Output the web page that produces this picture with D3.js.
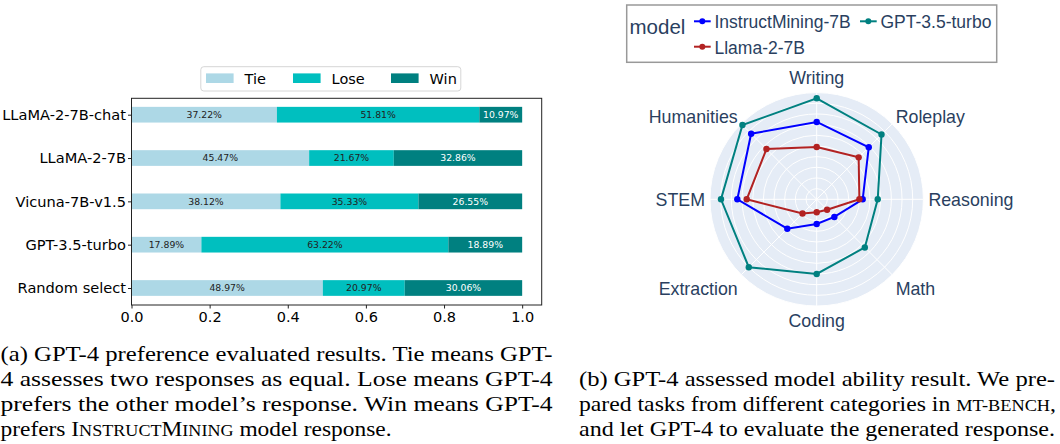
<!DOCTYPE html>
<html>
<head>
<meta charset="utf-8">
<script src="https://cdn.jsdelivr.net/npm/d3@7"></script>
<style>
  body { margin: 0; background: #fff; }
  svg { display: block; }
</style>
</head>
<body>
<script>
// ---- data: (a) preference bars ----
var models = ["LLaMA-2-7B-chat", "LLaMA-2-7B", "Vicuna-7B-v1.5", "GPT-3.5-turbo", "Random select"];
var tieVals = [37.22, 45.47, 38.12, 17.89, 48.97];
var loseVals = [51.81, 21.67, 35.33, 63.22, 20.97];
var winVals = [10.97, 32.86, 26.55, 18.89, 30.06];
var outcomes = ["Tie", "Lose", "Win"];
var xTicks = [0, 0.2, 0.4, 0.6, 0.8, 1.0];

// ---- data: (b) radar ----
var categories = ["Writing", "Roleplay", "Reasoning", "Math", "Coding", "Extraction", "STEM", "Humanities"];
var instructMining = [7.25, 6.9, 4.31, 2.34, 2.31, 3.9, 7.44, 8.69];
var gpt35 = [9.47, 8.59, 5.72, 6.38, 7.0, 9.0, 8.97, 9.84];
var llama2 = [4.9, 5.56, 4.0, 1.38, 1.22, 1.88, 6.56, 6.66];
var radarNames = ["InstructMining-7B", "GPT-3.5-turbo", "Llama-2-7B"];
var radialTicks = [1, 2, 3, 4, 5, 6, 7, 8, 9, 10];

var width = 1060, height = 444;
var svg = d3.select("body").append("svg")
  .attr("width", width)
  .attr("height", height);

// ================= (a) stacked bars =================
var barColors = d3.scaleOrdinal().domain(outcomes).range(["#add8e6", "#00bfbf", "#008080"]);
var labelColors = { Tie: "#222", Lose: "#222", Win: "#fff" };

var x = d3.scaleLinear().domain([0, 1.05]).range([131.5, 541.7]);
var y = d3.scaleLinear().domain([0, 4]).range([114.7, 288]);
var barH = 15.7;
var plotTop = 98.3, plotBottom = 305;

var rows = models.map(function(m, i) {
  return { model: m, Tie: tieVals[i] / 100, Lose: loseVals[i] / 100, Win: winVals[i] / 100 };
});
var stacked = d3.stack().keys(outcomes)(rows);

var gA = svg.append("g").attr("font-family", "DejaVu Sans, sans-serif");

var layers = gA.selectAll("g.layer")
  .data(stacked)
  .enter()
  .append("g")
  .attr("class", "layer")
  .attr("fill", function(d) { return barColors(d.key); });

layers.selectAll("rect")
  .data(function(d) { return d; })
  .enter()
  .append("rect")
  .attr("x", function(d) { return x(d[0]); })
  .attr("y", function(d, i) { return y(i) - barH / 2; })
  .attr("width", function(d) { return x(d[1]) - x(d[0]); })
  .attr("height", barH);

layers.each(function(layer) {
  d3.select(this).selectAll("text")
    .data(layer)
    .enter()
    .append("text")
    .attr("x", function(d) { return (x(d[0]) + x(d[1])) / 2; })
    .attr("y", function(d, i) { return y(i); })
    .attr("dy", "0.36em")
    .attr("text-anchor", "middle")
    .attr("font-size", 9.3)
    .attr("fill", labelColors[layer.key])
    .text(function(d) { return ((d[1] - d[0]) * 100).toFixed(2) + "%"; });
});

// frame
gA.append("rect")
  .attr("x", x(0)).attr("y", plotTop)
  .attr("width", x(1.05) - x(0)).attr("height", plotBottom - plotTop)
  .attr("fill", "none").attr("stroke", "#222").attr("stroke-width", 1);

// x axis
var xAxis = gA.append("g")
  .attr("transform", "translate(0," + plotBottom + ")")
  .call(d3.axisBottom(x).tickValues(xTicks).tickFormat(d3.format(".1f")).tickSizeOuter(0).tickSize(3.5).tickPadding(3));
xAxis.select(".domain").remove();
xAxis.selectAll("text").attr("font-size", 14.5).attr("fill", "#000").attr("font-family", "DejaVu Sans, sans-serif");
xAxis.selectAll("line").attr("stroke", "#222");

// y axis
var yAxis = gA.append("g")
  .attr("transform", "translate(" + x(0) + ",0)")
  .call(d3.axisLeft(y).tickValues([0, 1, 2, 3, 4]).tickFormat(function(d) { return models[d]; }).tickSize(3.5).tickPadding(2));
yAxis.select(".domain").remove();
yAxis.selectAll("text").attr("font-size", 14.6).attr("fill", "#000").attr("font-family", "DejaVu Sans, sans-serif");
yAxis.selectAll("line").attr("stroke", "#222");

// legend
var legA = gA.append("g");
legA.append("rect")
  .attr("x", 200.8).attr("y", 66.7).attr("width", 260).attr("height", 24.3)
  .attr("rx", 3).attr("fill", "#fff").attr("stroke", "#d6d6d6");
var legX = [206, 293, 391];
outcomes.forEach(function(k, i) {
  legA.append("rect")
    .attr("x", legX[i]).attr("y", 73.4).attr("width", 27.6).attr("height", 9.6)
    .attr("fill", barColors(k));
  legA.append("text")
    .attr("x", legX[i] + 38.6).attr("y", 78.8).attr("dy", "0.36em")
    .attr("font-size", 14.5).attr("fill", "#000")
    .text(k);
});

// ================= (b) radar =================
var cx = 816.7, cy = 199.3, R = 106.7;
var r = d3.scaleLinear().domain([0, 10]).range([0, R]);
var angle = d3.scaleLinear().domain([0, categories.length]).range([0, 2 * Math.PI]);
var sansFont = "'Liberation Sans', Arial, sans-serif";

var gB = svg.append("g")
  .attr("transform", "translate(" + cx + "," + cy + ")")
  .attr("font-family", sansFont);

gB.append("circle").attr("r", R).attr("fill", "#e5ecf6");

gB.selectAll("circle.grid")
  .data(radialTicks)
  .enter()
  .append("circle")
  .attr("class", "grid")
  .attr("r", function(d) { return r(d); })
  .attr("fill", "none")
  .attr("stroke", "#fff")
  .attr("stroke-width", 1);

gB.selectAll("line.spoke")
  .data(categories)
  .enter()
  .append("line")
  .attr("class", "spoke")
  .attr("x1", 0).attr("y1", 0)
  .attr("x2", function(d, i) { return R * Math.sin(angle(i)); })
  .attr("y2", function(d, i) { return -R * Math.cos(angle(i)); })
  .attr("stroke", "#fff")
  .attr("stroke-width", 1);

// category labels
gB.selectAll("text.cat")
  .data(categories)
  .enter()
  .append("text")
  .attr("class", "cat")
  .attr("x", function(d, i) { return (R + 5) * Math.sin(angle(i)); })
  .attr("y", function(d, i) {
    var c = Math.cos(angle(i));
    var diag = Math.abs(c) > 0.1 && Math.abs(c) < 0.9;
    return -(R + 15) * c + (diag ? 3.5 : 0);
  })
  .attr("dy", "0.36em")
  .attr("text-anchor", function(d, i) {
    var s = Math.sin(angle(i));
    return Math.abs(s) < 0.1 ? "middle" : (s > 0 ? "start" : "end");
  })
  .attr("font-size", 17.8)
  .attr("fill", "#2a3f5f")
  .text(function(d) { return d; });

var radarSeries = [
  { name: radarNames[0], values: instructMining, color: "#0000ff" },
  { name: radarNames[1], values: gpt35, color: "#008080" },
  { name: radarNames[2], values: llama2, color: "#b22222" }
];

var radarLine = d3.lineRadial()
  .angle(function(d, i) { return angle(i); })
  .radius(function(d) { return r(d); })
  .curve(d3.curveLinearClosed);

var seriesG = gB.selectAll("g.series")
  .data(radarSeries)
  .enter()
  .append("g")
  .attr("class", "series");

seriesG.append("path")
  .attr("d", function(d) { return radarLine(d.values); })
  .attr("fill", "none")
  .attr("stroke", function(d) { return d.color; })
  .attr("stroke-width", 2);

seriesG.each(function(s) {
  d3.select(this).selectAll("circle")
    .data(s.values)
    .enter()
    .append("circle")
    .attr("cx", function(d, i) { return r(d) * Math.sin(angle(i)); })
    .attr("cy", function(d, i) { return -r(d) * Math.cos(angle(i)); })
    .attr("r", 3.2)
    .attr("fill", s.color);
});

// radar legend
var legB = svg.append("g").attr("font-family", sansFont);
legB.append("rect")
  .attr("x", 626.7).attr("y", 5).attr("width", 370).attr("height", 57.3)
  .attr("fill", "#fff").attr("stroke", "#999").attr("stroke-width", 1.5);
legB.append("text")
  .attr("x", 629.5).attr("y", 27).attr("dy", "0.36em")
  .attr("font-size", 20.5).attr("fill", "#2a3f5f")
  .text("model");
var legPos = [[694, 21.3], [860, 21.3], [694, 46.7]];
radarSeries.forEach(function(s, i) {
  var p = legPos[i];
  legB.append("line")
    .attr("x1", p[0]).attr("x2", p[0] + 16.7)
    .attr("y1", p[1]).attr("y2", p[1])
    .attr("stroke", s.color).attr("stroke-width", 2);
  legB.append("circle")
    .attr("cx", p[0] + 8.3).attr("cy", p[1]).attr("r", 3)
    .attr("fill", s.color);
  legB.append("text")
    .attr("x", p[0] + 20.5).attr("y", p[1] + 0.5).attr("dy", "0.36em")
    .attr("font-size", 17.5).attr("fill", "#2a3f5f")
    .text(s.name);
});

// ================= captions =================
var capFont = "'Liberation Serif', 'Times New Roman', serif";
function captionLine(xp, yp, len, parts) {
  var t = svg.append("text")
    .attr("x", xp).attr("y", yp)
    .attr("font-family", capFont)
    .attr("font-size", 22)
    .attr("fill", "#000")
    .attr("textLength", len)
    .attr("lengthAdjust", "spacingAndGlyphs");
  parts.forEach(function(p) {
    var sp = t.append("tspan").text(p[0]);
    if (p[1]) sp.attr("font-size", 17);
  });
}
captionLine(0.5, 361, 552, [["(a) GPT-4 preference evaluated results. Tie means GPT-"]]);
captionLine(0.5, 386, 552, [["4 assesses two responses as equal.  Lose means GPT-4"]]);
captionLine(0.5, 411, 552, [["prefers the other model\u2019s response.  Win means GPT-4"]]);
captionLine(0.5, 436, 391, [["prefers I"], ["NSTRUCT", true], ["M"], ["INING", true], [" model response."]]);

captionLine(579, 386, 476, [["(b) GPT-4 assessed model ability result. We pre-"]]);
captionLine(579, 411, 477, [["pared tasks from different categories in "], ["MT-BENCH", true], [","]]);
captionLine(579, 436, 476, [["and let GPT-4 to evaluate the generated response."]]);
</script>
</body>
</html>
